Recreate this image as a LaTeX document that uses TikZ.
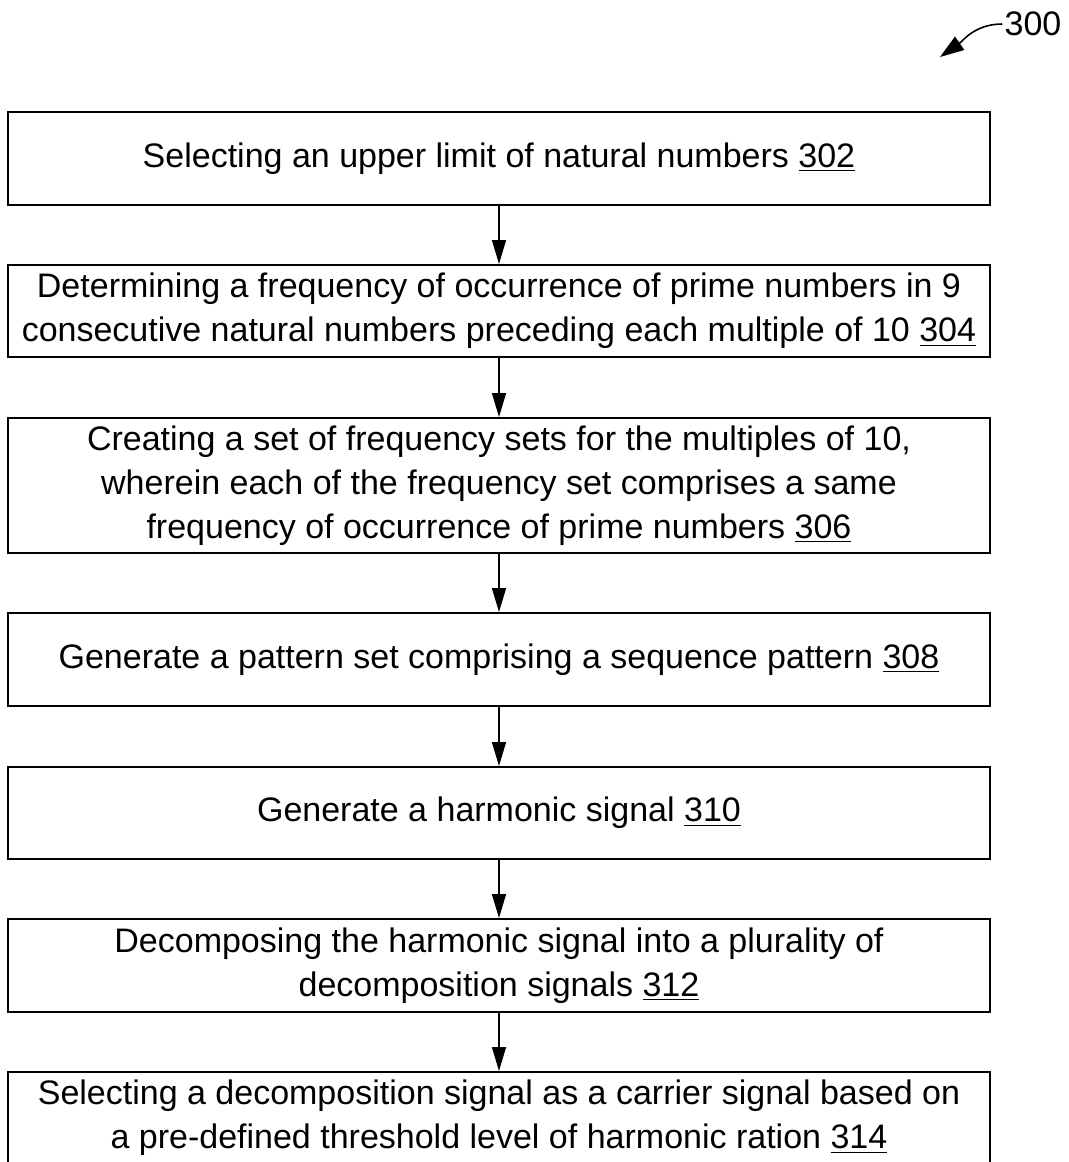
\documentclass[tikz,border=0pt]{standalone}
\usepackage{fontspec}
\setmainfont{Liberation Sans}
\usetikzlibrary{arrows.meta}
\tikzset{
	stepbox/.style={draw, line width=1pt, minimum width=491pt, inner sep=0pt, align=center, font=\fontsize{17}{22}\selectfont},
	flow/.style={-{Triangle[length=12pt,width=7pt]}, line width=0.8pt}
}
\begin{document}
\begin{tikzpicture}[x=0.5pt,y=-0.5pt]
			\useasboundingbox (0,0) rectangle (1069,1162);
			\node[stepbox, minimum height=46.5pt] (s302) at (499,158.5) {Selecting an upper limit of natural numbers \underline{302}};
			\node[stepbox, minimum height=46pt] (s304) at (499,311) {Determining a frequency of occurrence of prime numbers in 9\\consecutive natural numbers preceding each multiple of 10 \underline{304}};
			\node[stepbox, minimum height=67.5pt] (s306) at (499,485.5) {Creating a set of frequency sets for the multiples of 10,\\wherein each of the frequency set comprises a same\\frequency of occurrence of prime numbers \underline{306}};
			\node[stepbox, minimum height=46.5pt] (s308) at (499,659.5) {Generate a pattern set comprising a sequence pattern \underline{308}};
			\node[stepbox, minimum height=46pt] (s310) at (499,813) {Generate a harmonic signal \underline{310}};
			\node[stepbox, minimum height=46.5pt] (s312) at (499,965.5) {Decomposing the harmonic signal into a plurality of\\decomposition signals \underline{312}};
			\node[stepbox, minimum height=46pt] (s314) at (499,1118) {Selecting a decomposition signal as a carrier signal based on\\a pre-defined threshold level of harmonic ration \underline{314}};
			\draw[flow] (s302) -- (s304);
			\draw[flow] (s304) -- (s306);
			\draw[flow] (s306) -- (s308);
			\draw[flow] (s308) -- (s310);
			\draw[flow] (s310) -- (s312);
			\draw[flow] (s312) -- (s314);
			% figure number
			\node[font=\fontsize{17}{20}\selectfont, inner sep=1pt] (fig) at (1033,24) {300};
			\coordinate (figtip) at (940,57);
			\draw[line width=0.8pt, -{Triangle[length=12pt,width=8pt]}] (fig.west) to[out=180,in=35] (figtip);
		\end{tikzpicture}
\end{document}
